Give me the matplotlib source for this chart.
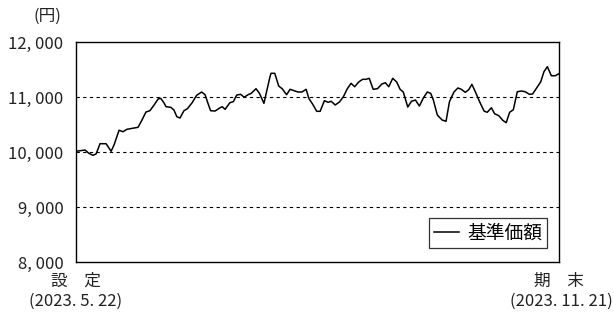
import matplotlib
matplotlib.use("Agg")
import matplotlib.pyplot as plt

plt.rcParams['font.family'] = ['Noto Sans CJK JP', 'DejaVu Sans']

# days since launch (2023-05-22) and NAV in yen
days = [0, 3.4, 4.9, 6.4, 7.6, 9.1, 11.4, 13.3, 14.4, 16.3, 17.8, 19.3, 23.5,
        25.0, 26.5, 28.0, 29.6, 31.1, 32.1, 33.3, 34.1, 35.9, 37.1, 38.2, 39.4,
        40.9, 42.2, 44.0, 45.7, 47.6, 48.9, 50.0, 51.0, 52.7, 54.6, 55.4, 56.5,
        58.3, 59.6, 60.9, 62.4, 63.7, 65.2, 66.4, 68.2, 69.5, 71.2, 73.5, 73.9,
        75.3, 76.8, 78.1, 79.8, 81.1, 82.6, 84.1, 85.6, 87.2, 88.2, 89.7, 91.2,
        92.5, 94.1, 95.5, 96.7, 98.2, 99.8, 101.3, 102.8, 104.2, 105.6, 107.1,
        108.6, 109.9, 111.1, 112.6, 114.2, 115.9, 117.2, 118.5, 120.0, 121.5,
        122.8, 124.0, 125.7, 127.1, 128.6, 130.1, 131.6, 133.1, 134.4, 135.4,
        136.9, 138.7, 140.2, 141.5, 143.2, 144.7, 146.0, 147.5, 148.8, 150.0,
        151.3, 152.8, 154.6, 155.8, 157.4, 158.6, 160.2, 161.7, 163.0, 164.3,
        165.7, 167.2, 168.7, 170.2, 171.8, 173.0, 174.6, 176.1, 177.3, 178.6,
        180.1, 181.6, 183]
nav = [10013, 10036, 9976, 9940, 9964, 10151, 10151, 10013, 10127, 10395,
       10369, 10413, 10449, 10582, 10727, 10751, 10855, 10964, 10976, 10896,
       10824, 10813, 10764, 10642, 10618, 10751, 10787, 10896, 11031, 11091,
       11042, 10885, 10751, 10745, 10805, 10824, 10776, 10896, 10915, 11036,
       11049, 10995, 11042, 11067, 11151, 11067, 10885, 11369, 11431, 11431,
       11200, 11151, 11042, 11140, 11115, 11091, 11091, 11140, 10976, 10867,
       10740, 10740, 10933, 10904, 10922, 10855, 10909, 11005, 11151, 11249,
       11187, 11273, 11322, 11322, 11340, 11140, 11151, 11236, 11260, 11187,
       11340, 11273, 11140, 11091, 10818, 10922, 10945, 10836, 10982, 11091,
       11067, 10945, 10673, 10582, 10558, 10915, 11091, 11164, 11140, 11085,
       11133, 11231, 11096, 10927, 10745, 10722, 10805, 10696, 10660, 10576,
       10533, 10722, 10769, 11096, 11109, 11096, 11049, 11055, 11169, 11278,
       11460, 11551, 11387, 11387, 11424]

y_ticks = [8000, 9000, 10000, 11000, 12000]
y_labels = ['8, 000', '9, 000', '10, 000', '11, 000', '12, 000']
x_names = ['設\u3000定', '期\u3000末']
x_dates = ['(2023. 5. 22)', '(2023. 11. 21)']

fig = plt.figure(figsize=(6.14, 3.14), dpi=100)
ax = fig.add_axes([0.1238, 0.1656, 0.7866, 0.7006])

ax.plot(days, nav, color='black', linewidth=1.1, label='基準価額')

for y in y_ticks[1:-1]:
    ax.axhline(y, color='black', linewidth=0.8, linestyle=(0, (3, 3)), zorder=1)

ax.set_xlim(days[0], days[-1])
ax.set_ylim(8000, 12000)
ax.set_yticks(y_ticks)
ax.set_yticklabels(y_labels, fontsize=12)
ax.set_xticks([])
ax.tick_params(axis='both', length=0, colors='#222222')
ax.tick_params(axis='y', pad=9)
for s in ax.spines.values():
    s.set_color('black')
    s.set_linewidth(1.0)

# start / end labels under the axis
for x, name, date, dx in zip([days[0], days[-1]], x_names, x_dates, [0, 2]):
    ax.annotate(name, xy=(x, 0), xycoords=('data', 'axes fraction'),
                xytext=(0, -14), textcoords='offset points',
                ha='center', va='center', fontsize=12, color='#222222')
    ax.annotate(date, xy=(x, 0), xycoords=('data', 'axes fraction'),
                xytext=(dx, -28.5), textcoords='offset points',
                ha='center', va='center', fontsize=12, color='#222222')

fig.text(0.054, 0.949, '(円)', fontsize=12, va='center', ha='left', color='#222222')

leg = ax.legend(loc='lower right', bbox_to_anchor=(0.975, 0.063), fontsize=13.5,
                frameon=True, fancybox=False, handlelength=1.35,
                handletextpad=0.43, borderpad=0.25, borderaxespad=0)
leg.get_frame().set_edgecolor('black')
leg.get_frame().set_linewidth(0.9)

fig.savefig('out.png', dpi=100)
